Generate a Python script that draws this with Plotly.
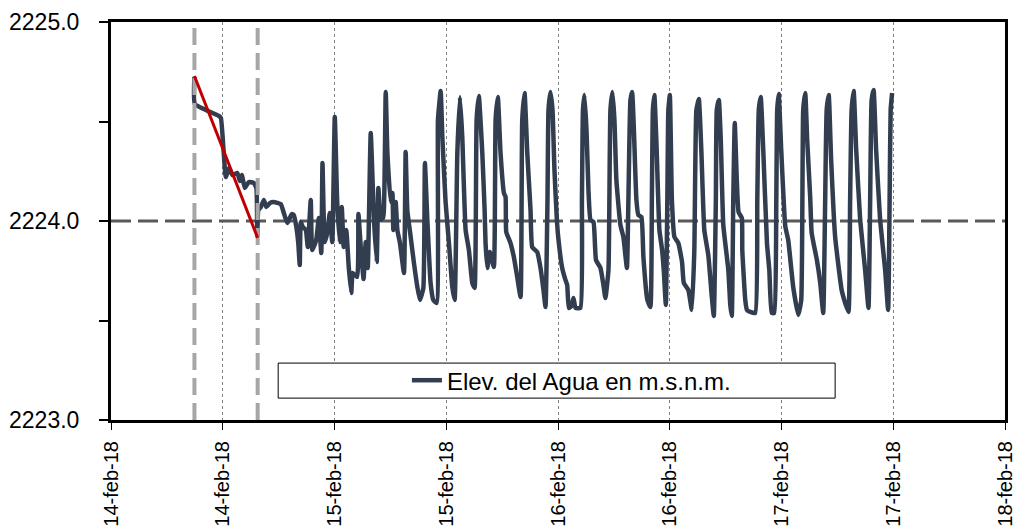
import pandas as pd
import plotly.graph_objects as go

# ---------------- data ----------------
base_date = "2018-02-14 00:00"

# hours after base_date
hours = [
    8.96, 9.01, 11.58, 11.80, 12.33, 12.66, 13.03, 13.57, 13.84, 14.05,
    14.37, 14.80, 15.34, 15.61, 15.71, 15.82, 16.09, 16.41, 16.68, 17.05,
    17.48, 18.23, 18.56, 18.93, 19.41, 19.63, 19.90, 20.11, 20.27, 20.38,
    20.59, 20.92, 21.13, 21.45, 21.61, 22.04, 22.31, 22.58, 22.71, 22.95,
    23.22, 23.49, 23.76, 24.03, 24.29, 24.56, 24.78, 24.99, 25.26, 25.53,
    25.80, 25.96, 26.44, 26.57, 26.82, 27.12, 27.35, 27.57, 27.89, 28.24,
    28.53, 28.71, 28.96, 29.14, 29.25, 29.50, 29.68, 30.03, 30.22, 30.32,
    30.57, 30.75, 31.03, 31.46, 31.64, 31.82, 32.18, 32.53, 32.90, 33.18,
    33.54, 33.71, 33.97, 34.32, 34.61, 34.97, 35.11, 35.40, 35.58, 35.93,
    36.29, 36.65, 36.90, 37.19, 37.47, 37.72, 38.08, 38.43, 38.80, 39.04,
    39.26, 39.50, 39.87, 40.12, 40.22, 40.41, 40.68, 41.11, 41.30, 41.54,
    41.83, 42.19, 42.37, 42.44, 42.90, 43.26, 43.62, 43.98, 44.16, 44.41,
    44.70, 45.05, 45.23, 45.77, 46.12, 46.44, 46.66, 46.87, 46.98, 47.19,
    47.41, 47.62, 47.89, 48.09, 48.45, 48.80, 48.99, 49.16, 49.45, 49.66,
    49.88, 50.41, 50.57, 50.68, 50.84, 51.06, 51.27, 51.49, 51.81, 52.08,
    52.56, 52.88, 53.09, 53.42, 53.63, 53.85, 54.06, 54.27, 54.70, 55.02,
    55.40, 55.56, 55.78, 55.96, 56.15, 56.42, 56.63, 56.96, 57.17, 57.60,
    57.92, 58.08, 58.19, 58.35, 58.56, 58.89, 59.18, 59.37, 59.58, 59.74,
    59.85, 60.01, 60.23, 60.50, 60.92, 61.32, 61.51, 62.00, 62.37, 62.64,
    62.86, 63.12, 63.39, 63.71, 64.14, 64.52, 64.73, 64.95, 65.05, 65.27,
    65.48, 65.75, 66.29, 66.50, 66.66, 66.82, 66.98, 67.20, 67.39, 67.74,
    67.79, 68.11, 68.29, 68.65, 69.18, 69.40, 69.56, 69.77, 70.04, 70.44,
    70.69, 70.95, 71.22, 71.44, 71.54, 71.70, 71.97, 72.40, 72.72, 73.26,
    73.80, 74.12, 74.33, 74.55, 74.76, 75.08, 75.24, 75.80, 76.16, 76.48,
    76.69, 76.85, 77.07, 77.33, 77.76, 78.46, 78.84, 79.19, 79.37, 79.53,
    79.75, 80.02, 80.45, 80.98, 81.34, 81.52, 81.68, 81.89, 82.16, 82.59,
    83.13, 83.45, 83.61, 83.72, 83.88,
]

# water elevation, m a.s.l.
elevation = [
    2224.724, 2224.588, 2224.528, 2224.518, 2224.221, 2224.266, 2224.231, 2224.241, 2224.201, 2224.231,
    2224.166, 2224.196, 2224.191, 2224.166, 2223.925, 2224.055, 2224.070, 2224.106, 2224.070, 2224.090,
    2224.095, 2224.085, 2224.040, 2223.990, 2224.035, 2224.030, 2223.970, 2223.889, 2223.779, 2223.995,
    2223.970, 2223.955, 2223.869, 2224.106, 2223.854, 2223.905, 2224.015, 2223.839, 2224.291, 2223.894,
    2223.940, 2224.040, 2223.894, 2224.523, 2224.095, 2223.894, 2224.070, 2223.869, 2223.955, 2223.769,
    2223.638, 2223.739, 2223.719, 2224.035, 2223.869, 2223.709, 2223.894, 2223.764, 2224.442, 2224.005,
    2223.794, 2224.166, 2224.005, 2224.020, 2224.015, 2224.648, 2224.342, 2224.095, 2224.141, 2223.955,
    2224.095, 2223.955, 2223.889, 2223.739, 2224.347, 2224.055, 2223.920, 2223.789, 2223.668, 2223.603,
    2223.663, 2224.291, 2224.005, 2223.688, 2223.603, 2223.588, 2224.508, 2224.653, 2224.422, 2224.095,
    2223.889, 2223.668, 2223.603, 2224.342, 2224.623, 2224.422, 2223.955, 2223.854, 2223.688, 2223.663,
    2224.508, 2224.628, 2224.342, 2224.055, 2223.889, 2223.764, 2223.844, 2223.769, 2224.508, 2224.623,
    2224.342, 2224.141, 2224.121, 2223.945, 2223.889, 2223.819, 2223.719, 2223.618, 2224.508, 2224.643,
    2224.342, 2224.055, 2223.869, 2223.844, 2223.764, 2223.653, 2223.568, 2224.106, 2224.558, 2224.648,
    2224.558, 2224.256, 2223.995, 2223.889, 2223.764, 2223.704, 2223.678, 2223.563, 2223.573, 2223.613,
    2223.563, 2223.563, 2224.106, 2224.558, 2224.633, 2224.457, 2224.156, 2224.005, 2223.995, 2223.804,
    2223.764, 2223.678, 2223.613, 2223.754, 2224.558, 2224.648, 2224.508, 2224.206, 2223.980, 2223.920,
    2223.764, 2224.106, 2224.608, 2224.648, 2224.457, 2224.106, 2224.030, 2224.020, 2223.819, 2223.603,
    2223.568, 2224.106, 2224.558, 2224.633, 2224.407, 2223.955, 2223.854, 2223.744, 2223.578, 2224.106,
    2224.558, 2224.633, 2224.106, 2223.920, 2223.889, 2223.794, 2223.688, 2223.653, 2223.553, 2223.854,
    2224.558, 2224.613, 2224.357, 2223.955, 2223.829, 2223.618, 2223.523, 2224.106, 2224.558, 2224.608,
    2224.407, 2223.980, 2223.754, 2223.578, 2223.523, 2224.106, 2224.492, 2224.206, 2224.045, 2224.015,
    2223.854, 2223.603, 2223.553, 2223.543, 2223.538, 2224.106, 2224.558, 2224.623, 2224.357, 2223.889,
    2223.754, 2223.538, 2223.538, 2224.106, 2224.558, 2224.638, 2224.357, 2223.975, 2223.905, 2223.668,
    2223.528, 2223.603, 2224.558, 2224.643, 2224.407, 2224.121, 2223.940, 2223.804, 2223.688, 2223.538,
    2224.106, 2224.558, 2224.633, 2224.307, 2223.920, 2223.653, 2223.588, 2223.543, 2224.106, 2224.558,
    2224.653, 2224.357, 2224.005, 2223.754, 2223.563, 2224.106, 2224.608, 2224.658, 2224.357, 2224.005,
    2223.754, 2223.553, 2224.106, 2224.558, 2224.643,
]
assert len(hours) == len(elevation)

# marked interval (gray dashed verticals) and red trend line
event_hours = [8.96, 15.75]
trend_hours = [8.96, 15.75]
trend_values = [2224.729, 2223.915]

reference_level = 2224.0

# axis ticks
x_tick_hours = [0, 12, 24, 36, 48, 60, 72, 84, 96]
x_tick_labels = ["14-feb-18", "14-feb-18", "15-feb-18", "15-feb-18", "16-feb-18",
                 "16-feb-18", "17-feb-18", "17-feb-18", "18-feb-18"]
y_tick_values = [2223.0, 2223.5, 2224.0, 2224.5, 2225.0]
y_tick_labels = ["2223.0", "", "2224.0", "", "2225.0"]
y_range = [2223.0, 2225.0]

series_name = "Elev. del Agua en m.s.n.m."

# ---------------- build ----------------
t0 = pd.Timestamp(base_date)
to_time = lambda hs: [t0 + pd.Timedelta(hours=h) for h in hs]

times = to_time(hours)
x_ticks = to_time(x_tick_hours)
x_range = [x_ticks[0], x_ticks[-1]]

FONT = "Liberation Sans, Arial, sans-serif"

fig = go.Figure()

# reference level (dashed horizontal)
fig.add_trace(go.Scatter(
    x=x_range, y=[reference_level, reference_level], mode="lines",
    line=dict(color="#595959", width=3, dash="20px,7px"),
    showlegend=False, hoverinfo="skip"))

# main series
fig.add_trace(go.Scatter(
    x=times, y=elevation, mode="lines", name=series_name,
    line=dict(color="#323e50", width=4.5, shape="spline", smoothing=0.4)))

# gray dashed event lines
for h in event_hours:
    ts = to_time([h])[0]
    fig.add_trace(go.Scatter(
        x=[ts, ts], y=y_range, mode="lines",
        line=dict(color="#a6a6a6", width=4, dash="17px,8px"),
        showlegend=False, hoverinfo="skip"))

# red trend line
fig.add_trace(go.Scatter(
    x=to_time(trend_hours), y=trend_values, mode="lines",
    line=dict(color="#c00000", width=3),
    showlegend=False, hoverinfo="skip"))

# legend frame
fig.add_shape(type="rect", xref="paper", yref="paper",
              x0=0.187, x1=0.81, y0=0.055, y1=0.143,
              line=dict(color="#000000", width=1), fillcolor="white", layer="above")

fig.update_layout(
    width=1017, height=531,
    margin=dict(l=111, r=12, t=22, b=111, autoexpand=False),
    paper_bgcolor="white", plot_bgcolor="white",
    font=dict(family=FONT, color="#000000"),
    showlegend=True,
    legend=dict(x=0.331, y=0.099, xanchor="left", yanchor="middle",
                bgcolor="rgba(0,0,0,0)", borderwidth=0,
                font=dict(family=FONT, size=24, color="#000000")),
    xaxis=dict(
        type="date", range=x_range, automargin=False,
        tickmode="array", tickvals=x_ticks, ticktext=x_tick_labels,
        tickangle=-90, tickfont=dict(family=FONT, size=20),
        ticks="outside", ticklen=7, tickwidth=1, tickcolor="#000000",
        showgrid=True, gridcolor="#808080", gridwidth=1, griddash="3px,3px",
        showline=True, linecolor="#000000", linewidth=3, mirror=True,
        zeroline=False, ticklabelstandoff=3,
    ),
    yaxis=dict(
        range=y_range, automargin=False,
        tickmode="array", tickvals=y_tick_values, ticktext=y_tick_labels,
        tickfont=dict(family=FONT, size=23),
        ticks="outside", ticklen=9, tickwidth=1.5, tickcolor="#000000",
        showgrid=False,
        showline=True, linecolor="#000000", linewidth=3, mirror=True,
        zeroline=False, ticklabelstandoff=15,
    ),
)

fig.write_html(
    "out.html",
    config={"displayModeBar": False},
    post_script="document.body.style.margin='0px';document.body.style.overflow='hidden';",
)
